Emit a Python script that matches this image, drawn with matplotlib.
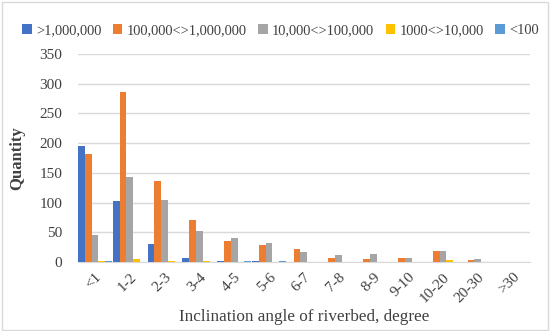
import matplotlib.pyplot as plt
import numpy as np

categories = ['<1', '1-2', '2-3', '3-4', '4-5', '5-6', '6-7', '7-8', '8-9', '9-10', '10-20', '20-30', '>30']
series_names = ['>1,000,000', '100,000<>1,000,000', '10,000<>100,000', '1000<>10,000', '<100']

s_1m = [195, 103, 30, 6, 1, 2, 0, 0, 0, 0, 0, 0, 0]
s_100k = [182, 286, 137, 70, 35, 28, 22, 7, 5, 7, 18, 3, 0]
s_10k = [46, 143, 104, 53, 40, 32, 16, 12, 13, 7, 19, 5, 0]
s_1k = [2, 5, 2, 1, 0, 0, 0, 0, 0, 0, 3, 0, 0]
s_100 = [1, 0, 0, 0, 1, 1, 0, 0, 0, 0, 0, 0, 0]

colors = ['#4472C4', '#ED7D31', '#A5A5A5', '#FFC000', '#5B9BD5']

plt.rcParams['font.family'] = ['Liberation Serif', 'DejaVu Serif']

fig = plt.figure(figsize=(5.5, 3.31), dpi=100)
ax = fig.add_axes([77.5 / 550, 1 - 262 / 331, 452.5 / 550, 208 / 331])

x = np.arange(len(categories))
w = 0.195
all_series = [s_1m, s_100k, s_10k, s_1k, s_100]
for i, vals in enumerate(all_series):
    ax.bar(x + (i - 2) * w, vals, width=w, color=colors[i], label=series_names[i], zorder=3)

ax.set_xlim(-0.5, len(categories) - 0.5)
ax.set_ylim(0, 350)
ax.set_yticks(range(0, 351, 50))
ax.yaxis.grid(True, color='#D9D9D9', linewidth=1, zorder=0)
ax.set_xticks(x)
ax.set_xticklabels(categories, rotation=45, ha='right', rotation_mode='anchor')
ax.tick_params(axis='both', length=0, labelsize=11, colors='#404040')
ax.tick_params(axis='x', pad=6)
ax.tick_params(axis='y', pad=11)
for side in ['top', 'right', 'left']:
    ax.spines[side].set_visible(False)
ax.spines['bottom'].set_color('#D9D9D9')

ax.set_xlabel('Inclination angle of riverbed, degree', fontsize=12.3, color='#404040', labelpad=3)
ax.set_ylabel('Quantity', fontsize=12, color='#404040', fontweight='bold', labelpad=10)

fig.legend(loc='center', bbox_to_anchor=(0.51, 0.907), ncol=5, frameon=False,
           fontsize=10.4, handlelength=0.65, handleheight=0.65, handletextpad=0.3,
           columnspacing=0.8, labelcolor='#404040')

fig.patches.append(plt.Rectangle((0.004, 0.004), 0.992, 0.99, transform=fig.transFigure,
                                 fill=False, edgecolor='#D9D9D9', linewidth=1))

fig.savefig('out.png', dpi=100)
